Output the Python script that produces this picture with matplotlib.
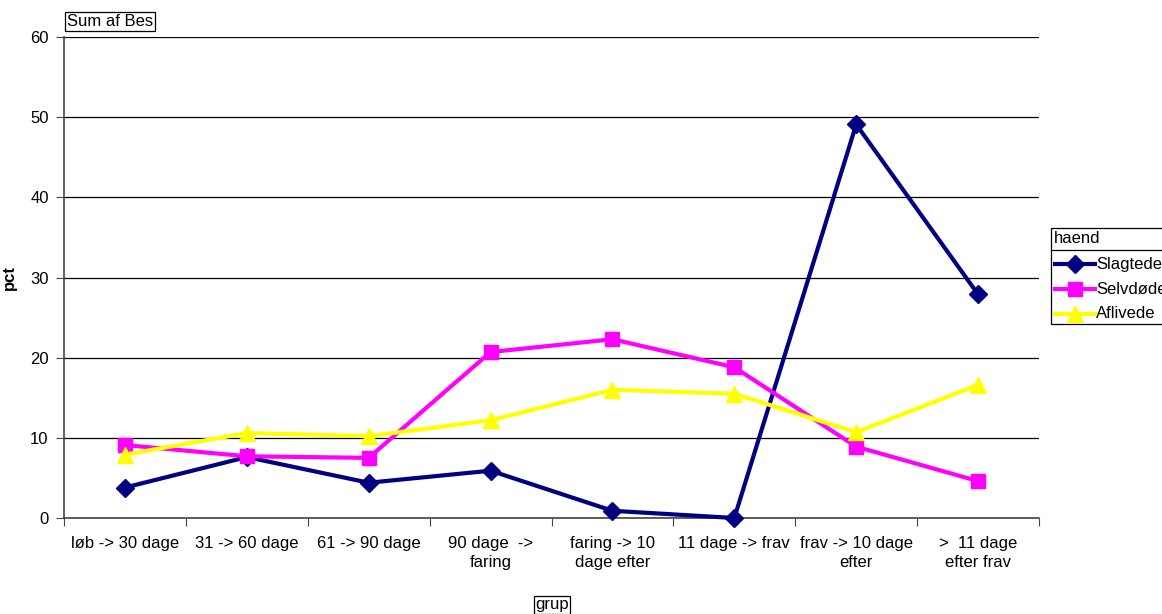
import matplotlib
matplotlib.use("Agg")
import matplotlib.pyplot as plt
from matplotlib.lines import Line2D
from matplotlib.patches import Rectangle

plt.rcParams['font.family'] = ['Liberation Sans', 'DejaVu Sans']

categories = ["løb -> 30 dage", "31 -> 60 dage", "61 -> 90 dage", "90 dage  ->\nfaring",
              "faring -> 10\ndage efter", "11 dage -> frav", "frav -> 10 dage\nefter", ">  11 dage\nefter frav"]
slagtede = [3.8, 7.6, 4.4, 5.9, 0.9, 0.0, 49.1, 27.9]
selvdoede = [9.1, 7.7, 7.5, 20.7, 22.3, 18.8, 8.9, 4.6]
aflivede = [7.9, 10.6, 10.2, 12.2, 16.0, 15.5, 10.7, 16.6]
series_names = ["Slagtede", "Selvdøde", "Aflivede"]
colors = ["#000080", "#FF00FF", "#FFFF00"]
markers = ["D", "s", "^"]
msizes = [9, 10.5, 11]

W, H = 1162, 614
FS = 12

def px(x, y):
    return x / W, 1 - y / H

fig = plt.figure(figsize=(W / 100, H / 100), dpi=100)
ax = fig.add_axes([64/W, 96/H, (1039-64)/W, (518-37)/H])

x = list(range(len(categories)))
for vals, name, c, m, ms in zip([slagtede, selvdoede, aflivede], series_names, colors, markers, msizes):
    ax.plot(x, vals, color=c, lw=3, marker=m, markersize=ms, markeredgecolor=c,
            label=name, clip_on=False, zorder=3)

ax.set_xlim(-0.5, len(categories) - 0.5)
ax.set_ylim(0, 60)
ax.set_yticks(range(0, 61, 10))
ax.yaxis.grid(True, color="black", lw=0.9)
ax.set_axisbelow(True)
ax.set_xticks([i - 0.5 for i in range(len(categories) + 1)])
ax.set_xticklabels([])
ax.set_xticks(x, minor=True)
ax.set_xticklabels(categories, minor=True, fontsize=FS, linespacing=1.3)
ax.tick_params(axis='x', which='minor', length=0, pad=13)
ax.tick_params(axis='x', which='major', length=6, direction='out', color='#444444')
ax.tick_params(axis='y', length=6, direction='out', labelsize=FS, color='#444444', pad=5)
for s in ["top", "right"]:
    ax.spines[s].set_visible(False)
for s in ["left", "bottom"]:
    ax.spines[s].set_color("#444444")
    ax.spines[s].set_linewidth(1.2)

ax.set_ylabel("pct", fontsize=FS, fontweight="bold")
ax.yaxis.set_label_coords((17 - 64) / (1039 - 64), 0.5)

fig.text(*px(67, 21), "Sum af Bes", fontsize=FS, va="center", ha="left",
         bbox=dict(boxstyle="square,pad=0.12", fc="white", ec="black", lw=0.9))
fig.text(*px(552, 605), "grup", fontsize=FS, va="center", ha="center",
         bbox=dict(boxstyle="square,pad=0.1", fc="white", ec="black", lw=0.9))

# legend (drawn manually in figure pixel coordinates)
x0, y0, x1, y1 = 1051, 228, 1175, 324
fig.add_artist(Rectangle(px(x0, y1), (x1 - x0) / W, (y1 - y0) / H, transform=fig.transFigure,
                         fc="white", ec="black", lw=0.9))
fig.text(*px(1054, 239), "haend", fontsize=FS, va="center", ha="left")
fig.add_artist(Line2D([x0 / W, x1 / W], [1 - 250 / H] * 2, transform=fig.transFigure,
                      color="black", lw=0.9))
for i, (name, c, m, ms) in enumerate(zip(series_names, colors, markers, msizes)):
    yy = 264 + 25 * i
    fig.add_artist(Line2D([1055 / W, 1095 / W], [1 - yy / H] * 2, transform=fig.transFigure,
                          color=c, lw=3))
    fig.add_artist(Line2D([1075 / W], [1 - yy / H], transform=fig.transFigure, color=c,
                          marker=m, markersize=ms, markeredgecolor=c, lw=0))
    fig.text(*px(1096, yy), name, fontsize=FS, va="center", ha="left")

fig.savefig("out.png", dpi=100)
